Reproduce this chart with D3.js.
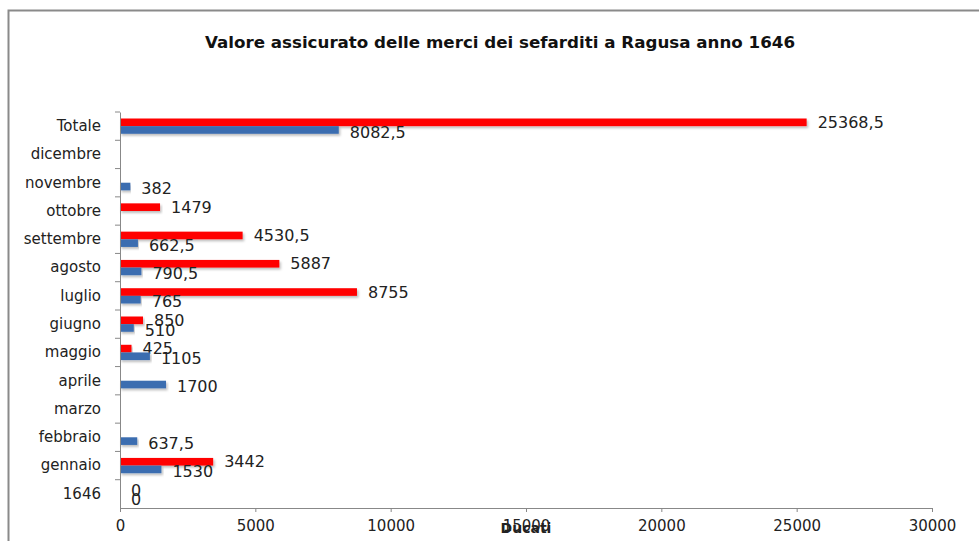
<!DOCTYPE html>
<html>
<head>
<meta charset="utf-8">
<script src="https://cdn.jsdelivr.net/npm/d3@7"></script>
<style>
  body { margin: 0; background: #fff; }
  text { font-family: 'DejaVu Sans', sans-serif; fill: #222; }
</style>
</head>
<body>
<div id="chart-area"></div>
<script>
// categories, top to bottom
var categories = ['Totale', 'dicembre', 'novembre', 'ottobre', 'settembre', 'agosto',
  'luglio', 'giugno', 'maggio', 'aprile', 'marzo', 'febbraio', 'gennaio', '1646'];

// red series (drawn on top in each row)
var redValues = [25368.5, null, null, 1479, 4530.5, 5887, 8755, 850, 425, null, null, null, 3442, 0];

// blue series
var blueValues = [8082.5, null, 382, null, 662.5, 790.5, 765, 510, 1105, 1700, null, 637.5, 1530, 0];

var xTicks = [0, 5000, 10000, 15000, 20000, 25000, 30000];

var W = 979, H = 541;
var margin = { left: 120, right: 47, top: 112, bottom: 33 };
var width = W - margin.left - margin.right;
var height = H - margin.top - margin.bottom;

var svg = d3.select('#chart-area')
  .append('svg')
  .attr('width', W)
  .attr('height', H);

var defs = svg.append('defs');
var f = defs.append('filter').attr('id', 'shadow')
  .attr('x', '-5%').attr('y', '-50%').attr('width', '110%').attr('height', '250%');
f.append('feDropShadow')
  .attr('dx', 1.5).attr('dy', 2).attr('stdDeviation', 1.2)
  .attr('flood-color', '#000').attr('flood-opacity', 0.25);

// outer frame
svg.append('rect')
  .attr('x', 8.5).attr('y', 10.5)
  .attr('width', W + 20).attr('height', H + 20)
  .attr('fill', 'none')
  .attr('stroke', '#8a8a8a')
  .attr('stroke-width', 2);

// title
svg.append('text')
  .attr('x', 500)
  .attr('y', 48)
  .attr('text-anchor', 'middle')
  .attr('font-family', 'Liberation Sans, sans-serif')
  .attr('font-weight', 'bold')
  .attr('font-size', '16.7px')
  .style('fill', '#111')
  .text('Valore assicurato delle merci dei sefarditi a Ragusa anno 1646');

var g = svg.append('g')
  .attr('transform', 'translate(' + margin.left + ', ' + margin.top + ')');

// Scales
var x = d3.scaleLinear()
  .domain([0, 30000])
  .range([0, width]);

var y = d3.scaleBand()
  .domain(categories)
  .range([0, height]);

var inner = d3.scaleBand()
  .domain(['red', 'blue'])
  .range([0, y.bandwidth()])
  .paddingInner(0)
  .paddingOuter(0.85);

var series = [
  { key: 'red', values: redValues, color: '#ff0000', dy: 0 },
  { key: 'blue', values: blueValues, color: '#3b6db0', dy: 2 }
];

// bars
series.forEach(function(s) {
  var rows = categories.map(function(c, i) {
    return { cat: c, value: s.values[i] };
  }).filter(function(d) { return d.value !== null; });

  g.append('g').selectAll('rect')
    .data(rows)
    .enter()
    .append('rect')
      .attr('x', x(0))
      .attr('y', function(d) { return y(d.cat) + inner(s.key); })
      .attr('width', function(d) { return x(d.value) - x(0); })
      .attr('height', inner.bandwidth())
      .attr('fill', s.color)
      .attr('filter', 'url(#shadow)');

  g.append('g').selectAll('text')
    .data(rows)
    .enter()
    .append('text')
      .attr('x', function(d) { return x(d.value) + 11; })
      .attr('y', function(d) { return y(d.cat) + inner(s.key) + inner.bandwidth() / 2 + s.dy; })
      .attr('dy', '0.35em')
      .attr('font-size', '16px')
      .text(function(d) { return String(d.value).replace('.', ','); });
});

// Y Axis
var yAxis = g.append('g')
  .call(d3.axisLeft(y).tickSize(0).tickPadding(19));
yAxis.select('.domain').attr('stroke', '#888');
yAxis.selectAll('text').attr('font-size', '15px').style('fill', '#222');

// y tick marks at band boundaries
g.append('g').selectAll('line')
  .data(categories)
  .enter()
  .append('line')
    .attr('x1', -5).attr('x2', 0)
    .attr('y1', function(d) { return y(d); })
    .attr('y2', function(d) { return y(d); })
    .attr('stroke', '#888');

// X Axis
var xAxis = g.append('g')
  .attr('transform', 'translate(0, ' + height + ')')
  .call(d3.axisBottom(x).tickValues(xTicks).tickSize(4).tickPadding(8)
    .tickFormat(function(d) { return d; }));
xAxis.select('.domain').attr('stroke', '#888');
xAxis.selectAll('line').attr('stroke', '#888');
xAxis.selectAll('text').attr('font-size', '15px').style('fill', '#222');

// X Label (sits on top of the 15000 tick label, as in the original)
g.append('text')
  .attr('x', x(15000))
  .attr('y', height + 20)
  .attr('dy', '0.35em')
  .attr('text-anchor', 'middle')
  .attr('font-size', '14px')
  .attr('font-weight', 'bold')
  .text('Ducati');
</script>
</body>
</html>
